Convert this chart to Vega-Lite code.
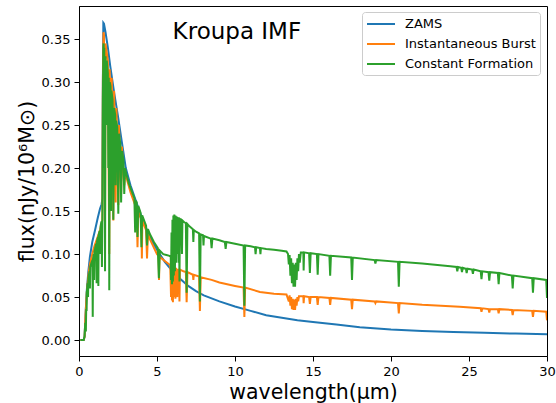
{
"$schema": "https://vega.github.io/schema/vega-lite/v6.json",
"width": 468, "height": 350,
"autosize": {"type": "none"},
"padding": {"left": 79, "top": 6, "right": 9, "bottom": 47},
"background": "white",
"config": {
 "font": "DejaVu Sans",
 "view": {"stroke": "#000", "strokeWidth": 1},
 "axis": {"domainColor": "#000", "tickColor": "#000", "labelColor": "#000", "titleColor": "#000", "labelFont": "DejaVu Sans", "titleFont": "DejaVu Sans", "labelFontSize": 13, "titleFontSize": 20.5, "titleFontWeight": "normal", "tickSize": 5, "labelPadding": 4, "grid": false, "domainWidth": 1, "tickWidth": 1},
 "legend": {"labelFont": "DejaVu Sans", "labelFontSize": 13, "labelColor": "#000"}
},
"datasets": {
 "zams": [
  {"wl":0.09,"flux":0},{"wl":0.3,"flux":0},{"wl":0.36,"flux":0.004},{"wl":0.42,"flux":0.03},{"wl":0.5,"flux":0.058},{"wl":0.6,"flux":0.08},{"wl":0.7,"flux":0.097},{"wl":0.85,"flux":0.114},{"wl":1.03,"flux":0.128},{"wl":1.2,"flux":0.142},{"wl":1.35,"flux":0.153},{"wl":1.45,"flux":0.158},{"wl":1.5,"flux":0.165},{"wl":1.53,"flux":0.3},{"wl":1.56,"flux":0.369},{"wl":1.6,"flux":0.368},{"wl":1.7,"flux":0.358},{"wl":1.85,"flux":0.34},{"wl":2.0,"flux":0.319},{"wl":2.25,"flux":0.288},{"wl":2.5,"flux":0.26},{"wl":2.75,"flux":0.23},{"wl":3.0,"flux":0.2},{"wl":3.3,"flux":0.18},{"wl":3.7,"flux":0.159},{"wl":4.1,"flux":0.139},{"wl":4.55,"flux":0.12},{"wl":5.0,"flux":0.105},{"wl":5.5,"flux":0.091},{"wl":6.0,"flux":0.08},{"wl":6.5,"flux":0.071},{"wl":7.0,"flux":0.063},{"wl":7.5,"flux":0.057},{"wl":8.0,"flux":0.052},{"wl":9.0,"flux":0.045},{"wl":10.0,"flux":0.039},{"wl":11.0,"flux":0.034},{"wl":12.0,"flux":0.029},{"wl":13.0,"flux":0.026},{"wl":14.0,"flux":0.023},{"wl":15.0,"flux":0.021},{"wl":16.5,"flux":0.018},{"wl":18.0,"flux":0.015},{"wl":20.0,"flux":0.0122},{"wl":22.0,"flux":0.0105},{"wl":24.0,"flux":0.0093},{"wl":26.0,"flux":0.0084},{"wl":28.0,"flux":0.0076},{"wl":30.0,"flux":0.0069}
 ],
 "burst": [
  {"wl":0.09,"flux":0},{"wl":0.3,"flux":0},{"wl":0.36,"flux":0.004},{"wl":0.42,"flux":0.03},{"wl":0.5,"flux":0.055},{"wl":0.6,"flux":0.075},{"wl":0.7,"flux":0.088},{"wl":0.85,"flux":0.1},{"wl":1.0,"flux":0.11},{"wl":1.2,"flux":0.12},{"wl":1.35,"flux":0.128},{"wl":1.45,"flux":0.135},{"wl":1.5,"flux":0.14},{"wl":1.53,"flux":0.3},{"wl":1.57,"flux":0.358},{"wl":1.6,"flux":0.355},{"wl":1.67,"flux":0.15},{"wl":1.7,"flux":0.345},{"wl":1.85,"flux":0.325},{"wl":1.94,"flux":0.1},{"wl":1.97,"flux":0.315},{"wl":2.05,"flux":0.18},{"wl":2.1,"flux":0.305},{"wl":2.2,"flux":0.139},{"wl":2.25,"flux":0.29},{"wl":2.35,"flux":0.16},{"wl":2.4,"flux":0.27},{"wl":2.52,"flux":0.157},{"wl":2.56,"flux":0.25},{"wl":2.7,"flux":0.17},{"wl":2.75,"flux":0.225},{"wl":2.9,"flux":0.18},{"wl":2.95,"flux":0.195},{"wl":3.3,"flux":0.172},{"wl":3.7,"flux":0.152},{"wl":3.75,"flux":0.108},{"wl":3.8,"flux":0.149},{"wl":4.0,"flux":0.14},{"wl":4.03,"flux":0.095},{"wl":4.06,"flux":0.139},{"wl":4.3,"flux":0.128},{"wl":4.36,"flux":0.095},{"wl":4.42,"flux":0.124},{"wl":4.55,"flux":0.117},{"wl":5.0,"flux":0.1},{"wl":5.1,"flux":0.098},{"wl":5.13,"flux":0.07},{"wl":5.16,"flux":0.097},{"wl":5.5,"flux":0.092},{"wl":5.85,"flux":0.087},{"wl":5.9,"flux":0.05},{"wl":5.93,"flux":0.086},{"wl":5.96,"flux":0.046},{"wl":5.99,"flux":0.085},{"wl":6.02,"flux":0.044},{"wl":6.05,"flux":0.085},{"wl":6.1,"flux":0.05},{"wl":6.13,"flux":0.084},{"wl":6.18,"flux":0.048},{"wl":6.22,"flux":0.084},{"wl":6.3,"flux":0.05},{"wl":6.33,"flux":0.083},{"wl":6.38,"flux":0.06},{"wl":6.41,"flux":0.083},{"wl":6.44,"flux":0.045},{"wl":6.47,"flux":0.082},{"wl":6.7,"flux":0.08},{"wl":6.85,"flux":0.079},{"wl":6.9,"flux":0.044},{"wl":6.95,"flux":0.079},{"wl":7.3,"flux":0.076},{"wl":7.33,"flux":0.07},{"wl":7.36,"flux":0.076},{"wl":7.7,"flux":0.074},{"wl":7.75,"flux":0.034},{"wl":7.8,"flux":0.073},{"wl":8.5,"flux":0.07},{"wl":9.0,"flux":0.067},{"wl":10.0,"flux":0.063},{"wl":10.55,"flux":0.061},{"wl":10.6,"flux":0.027},{"wl":10.65,"flux":0.061},{"wl":11.6,"flux":0.056},{"wl":12.5,"flux":0.054},{"wl":13.3,"flux":0.053},{"wl":13.45,"flux":0.045},{"wl":13.5,"flux":0.052},{"wl":13.55,"flux":0.04},{"wl":13.6,"flux":0.05},{"wl":13.65,"flux":0.036},{"wl":13.7,"flux":0.048},{"wl":13.75,"flux":0.035},{"wl":13.8,"flux":0.047},{"wl":13.85,"flux":0.035},{"wl":13.9,"flux":0.048},{"wl":13.95,"flux":0.04},{"wl":14.0,"flux":0.05},{"wl":14.05,"flux":0.045},{"wl":14.1,"flux":0.051},{"wl":14.38,"flux":0.051},{"wl":14.4,"flux":0.043},{"wl":14.43,"flux":0.051},{"wl":14.75,"flux":0.05},{"wl":14.8,"flux":0.042},{"wl":14.85,"flux":0.05},{"wl":15.25,"flux":0.05},{"wl":15.3,"flux":0.041},{"wl":15.35,"flux":0.05},{"wl":16.05,"flux":0.049},{"wl":16.1,"flux":0.041},{"wl":16.15,"flux":0.049},{"wl":17.45,"flux":0.047},{"wl":17.5,"flux":0.036},{"wl":17.55,"flux":0.047},{"wl":18.95,"flux":0.045},{"wl":19.0,"flux":0.043},{"wl":19.05,"flux":0.045},{"wl":20.45,"flux":0.043},{"wl":20.5,"flux":0.031},{"wl":20.55,"flux":0.043},{"wl":22.0,"flux":0.041},{"wl":24.4,"flux":0.0387},{"wl":25.75,"flux":0.037},{"wl":25.8,"flux":0.033},{"wl":25.85,"flux":0.037},{"wl":26.25,"flux":0.036},{"wl":26.3,"flux":0.032},{"wl":26.35,"flux":0.036},{"wl":26.85,"flux":0.036},{"wl":26.9,"flux":0.031},{"wl":26.95,"flux":0.036},{"wl":27.75,"flux":0.035},{"wl":27.8,"flux":0.029},{"wl":27.85,"flux":0.035},{"wl":29.05,"flux":0.034},{"wl":29.1,"flux":0.027},{"wl":29.15,"flux":0.034},{"wl":29.95,"flux":0.033},{"wl":30.0,"flux":0.023}
 ],
 "constant": [
  {"wl":0.09,"flux":0},{"wl":0.3,"flux":0},{"wl":0.36,"flux":0.005},{"wl":0.4,"flux":0.02},{"wl":0.44,"flux":0.01},{"wl":0.46,"flux":0.035},{"wl":0.49,"flux":0.035},{"wl":0.5,"flux":0.055},{"wl":0.55,"flux":0.066},{"wl":0.58,"flux":0.05},{"wl":0.6,"flux":0.072},{"wl":0.68,"flux":0.08},{"wl":0.7,"flux":0.06},{"wl":0.72,"flux":0.085},{"wl":0.8,"flux":0.09},{"wl":0.86,"flux":0.093},{"wl":0.88,"flux":0.027},{"wl":0.9,"flux":0.095},{"wl":0.95,"flux":0.1},{"wl":0.97,"flux":0.07},{"wl":0.99,"flux":0.103},{"wl":1.05,"flux":0.108},{"wl":1.1,"flux":0.112},{"wl":1.13,"flux":0.066},{"wl":1.16,"flux":0.115},{"wl":1.22,"flux":0.12},{"wl":1.24,"flux":0.063},{"wl":1.26,"flux":0.122},{"wl":1.32,"flux":0.127},{"wl":1.36,"flux":0.1},{"wl":1.38,"flux":0.132},{"wl":1.44,"flux":0.138},{"wl":1.47,"flux":0.085},{"wl":1.5,"flux":0.15},{"wl":1.53,"flux":0.28},{"wl":1.56,"flux":0.34},{"wl":1.58,"flux":0.345},{"wl":1.6,"flux":0.2},{"wl":1.62,"flux":0.34},{"wl":1.67,"flux":0.08},{"wl":1.7,"flux":0.33},{"wl":1.75,"flux":0.25},{"wl":1.78,"flux":0.325},{"wl":1.85,"flux":0.31},{"wl":1.88,"flux":0.2},{"wl":1.91,"flux":0.305},{"wl":1.94,"flux":0.058},{"wl":1.97,"flux":0.3},{"wl":2.02,"flux":0.295},{"wl":2.05,"flux":0.15},{"wl":2.08,"flux":0.29},{"wl":2.15,"flux":0.28},{"wl":2.2,"flux":0.14},{"wl":2.25,"flux":0.27},{"wl":2.32,"flux":0.262},{"wl":2.35,"flux":0.18},{"wl":2.38,"flux":0.255},{"wl":2.45,"flux":0.248},{"wl":2.52,"flux":0.147},{"wl":2.56,"flux":0.24},{"wl":2.65,"flux":0.228},{"wl":2.7,"flux":0.16},{"wl":2.75,"flux":0.22},{"wl":2.85,"flux":0.21},{"wl":2.9,"flux":0.17},{"wl":2.95,"flux":0.2},{"wl":3.05,"flux":0.192},{"wl":3.2,"flux":0.182},{"wl":3.4,"flux":0.172},{"wl":3.55,"flux":0.165},{"wl":3.6,"flux":0.125},{"wl":3.65,"flux":0.162},{"wl":3.7,"flux":0.16},{"wl":3.75,"flux":0.12},{"wl":3.8,"flux":0.156},{"wl":3.95,"flux":0.148},{"wl":4.0,"flux":0.108},{"wl":4.05,"flux":0.145},{"wl":4.3,"flux":0.133},{"wl":4.36,"flux":0.11},{"wl":4.42,"flux":0.129},{"wl":4.55,"flux":0.123},{"wl":4.8,"flux":0.114},{"wl":5.05,"flux":0.107},{"wl":5.12,"flux":0.072},{"wl":5.18,"flux":0.104},{"wl":5.4,"flux":0.1},{"wl":5.6,"flux":0.099},{"wl":5.8,"flux":0.098},{"wl":5.88,"flux":0.097},{"wl":5.9,"flux":0.07},{"wl":5.93,"flux":0.125},{"wl":5.96,"flux":0.065},{"wl":5.99,"flux":0.14},{"wl":6.02,"flux":0.068},{"wl":6.05,"flux":0.145},{"wl":6.08,"flux":0.075},{"wl":6.11,"flux":0.146},{"wl":6.15,"flux":0.08},{"wl":6.18,"flux":0.145},{"wl":6.22,"flux":0.09},{"wl":6.25,"flux":0.144},{"wl":6.3,"flux":0.1},{"wl":6.33,"flux":0.143},{"wl":6.38,"flux":0.09},{"wl":6.41,"flux":0.142},{"wl":6.44,"flux":0.068},{"wl":6.47,"flux":0.141},{"wl":6.55,"flux":0.14},{"wl":6.6,"flux":0.1},{"wl":6.63,"flux":0.139},{"wl":6.75,"flux":0.137},{"wl":6.85,"flux":0.136},{"wl":6.9,"flux":0.055},{"wl":6.95,"flux":0.135},{"wl":7.1,"flux":0.132},{"wl":7.3,"flux":0.129},{"wl":7.33,"flux":0.114},{"wl":7.36,"flux":0.128},{"wl":7.5,"flux":0.126},{"wl":7.7,"flux":0.124},{"wl":7.75,"flux":0.045},{"wl":7.8,"flux":0.123},{"wl":7.95,"flux":0.122},{"wl":7.98,"flux":0.11},{"wl":8.01,"flux":0.121},{"wl":8.45,"flux":0.118},{"wl":8.5,"flux":0.107},{"wl":8.55,"flux":0.118},{"wl":9.0,"flux":0.116},{"wl":9.35,"flux":0.114},{"wl":9.4,"flux":0.106},{"wl":9.45,"flux":0.114},{"wl":10.0,"flux":0.112},{"wl":10.55,"flux":0.11},{"wl":10.6,"flux":0.04},{"wl":10.65,"flux":0.11},{"wl":11.0,"flux":0.109},{"wl":11.28,"flux":0.108},{"wl":11.32,"flux":0.1},{"wl":11.36,"flux":0.108},{"wl":11.6,"flux":0.107},{"wl":11.63,"flux":0.1},{"wl":11.66,"flux":0.107},{"wl":12.0,"flux":0.106},{"wl":12.5,"flux":0.105},{"wl":13.0,"flux":0.104},{"wl":13.3,"flux":0.103},{"wl":13.4,"flux":0.1},{"wl":13.45,"flux":0.088},{"wl":13.5,"flux":0.099},{"wl":13.55,"flux":0.075},{"wl":13.6,"flux":0.095},{"wl":13.65,"flux":0.066},{"wl":13.7,"flux":0.09},{"wl":13.75,"flux":0.062},{"wl":13.8,"flux":0.088},{"wl":13.85,"flux":0.062},{"wl":13.9,"flux":0.09},{"wl":13.95,"flux":0.07},{"wl":14.0,"flux":0.095},{"wl":14.05,"flux":0.08},{"wl":14.1,"flux":0.1},{"wl":14.15,"flux":0.09},{"wl":14.22,"flux":0.102},{"wl":14.38,"flux":0.102},{"wl":14.4,"flux":0.081},{"wl":14.43,"flux":0.102},{"wl":14.75,"flux":0.101},{"wl":14.8,"flux":0.078},{"wl":14.85,"flux":0.101},{"wl":15.25,"flux":0.1},{"wl":15.3,"flux":0.076},{"wl":15.35,"flux":0.1},{"wl":16.05,"flux":0.098},{"wl":16.1,"flux":0.075},{"wl":16.15,"flux":0.098},{"wl":17.45,"flux":0.096},{"wl":17.5,"flux":0.07},{"wl":17.55,"flux":0.096},{"wl":18.95,"flux":0.093},{"wl":19.0,"flux":0.089},{"wl":19.05,"flux":0.093},{"wl":20.45,"flux":0.091},{"wl":20.5,"flux":0.062},{"wl":20.55,"flux":0.091},{"wl":22.0,"flux":0.089},{"wl":23.8,"flux":0.086},{"wl":24.2,"flux":0.085},{"wl":24.25,"flux":0.08},{"wl":24.3,"flux":0.085},{"wl":24.5,"flux":0.084},{"wl":24.55,"flux":0.079},{"wl":24.6,"flux":0.084},{"wl":24.8,"flux":0.083},{"wl":24.85,"flux":0.078},{"wl":24.9,"flux":0.083},{"wl":25.2,"flux":0.082},{"wl":25.25,"flux":0.077},{"wl":25.3,"flux":0.082},{"wl":25.75,"flux":0.08},{"wl":25.8,"flux":0.071},{"wl":25.85,"flux":0.08},{"wl":26.25,"flux":0.079},{"wl":26.3,"flux":0.069},{"wl":26.35,"flux":0.079},{"wl":26.85,"flux":0.078},{"wl":26.9,"flux":0.065},{"wl":26.95,"flux":0.078},{"wl":27.75,"flux":0.075},{"wl":27.8,"flux":0.06},{"wl":27.85,"flux":0.075},{"wl":29.05,"flux":0.072},{"wl":29.1,"flux":0.055},{"wl":29.15,"flux":0.072},{"wl":29.95,"flux":0.07},{"wl":30.0,"flux":0.049}
 ]
},
"encoding": {
 "x": {"field": "wl", "type": "quantitative", "scale": {"domain": [0, 30], "nice": false, "zero": false}, "axis": {"values": [0, 5, 10, 15, 20, 25, 30], "format": "d", "labelFlush": false, "titlePadding": 4}, "title": "wavelength(μm)"},
 "y": {"field": "flux", "type": "quantitative", "scale": {"domain": [-0.0185, 0.3885], "nice": false, "zero": false}, "axis": {"values": [0, 0.05, 0.1, 0.15, 0.2, 0.25, 0.3, 0.35], "format": ".2f", "titlePadding": 4}, "title": "flux(nJy/10⁶M⊙)"}
},
"layer": [
 {"data": {"name": "zams"}, "mark": {"type": "line", "strokeWidth": 2, "clip": true},
  "encoding": {"color": {"datum": "ZAMS", "type": "nominal", "scale": {"domain": ["ZAMS", "Instantaneous Burst", "Constant Formation"], "range": ["#1f77b4", "#ff7f0e", "#2ca02c"]},
   "legend": {"title": null, "orient": "none", "legendX": 283, "legendY": 6, "symbolType": "M-1,0L3,0", "symbolSize": 196, "symbolStrokeWidth": 2, "labelOffset": 23, "padding": 4, "rowPadding": 5, "strokeColor": "#cccccc", "fillColor": "white", "cornerRadius": 3}}}},
 {"data": {"name": "burst"}, "mark": {"type": "line", "strokeWidth": 2, "clip": true},
  "encoding": {"color": {"datum": "Instantaneous Burst", "type": "nominal"}}},
 {"data": {"name": "constant"}, "mark": {"type": "line", "strokeWidth": 2, "clip": true},
  "encoding": {"color": {"datum": "Constant Formation", "type": "nominal"}}},
 {"data": {"values": [{"label": "Kroupa IMF", "wl": 6, "flux": 0.35}]}, "mark": {"type": "text", "align": "left", "baseline": "alphabetic", "fontSize": 23, "font": "DejaVu Sans", "color": "#000"},
  "encoding": {"text": {"field": "label"}}}
]
}
